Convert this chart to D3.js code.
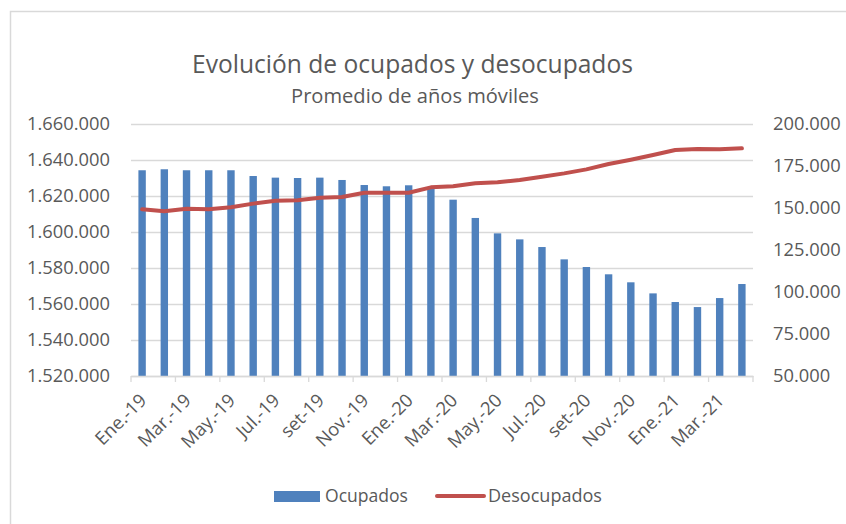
<!DOCTYPE html>
<html><head><meta charset="utf-8">
<script src="https://cdn.jsdelivr.net/npm/d3@7/dist/d3.min.js"></script>
<style>
html,body{margin:0;padding:0;background:#fff;}
svg{display:block;font-family:"Open Sans",sans-serif;}
</style></head>
<body>
<svg id="c" width="846" height="524"></svg>
<script>
const months = ["Ene.-19","Feb.-19","Mar.-19","Abr.-19","May.-19","Jun.-19","Jul.-19","Ago.-19","set-19","Oct.-19","Nov.-19","Dic.-19",
"Ene.-20","Feb.-20","Mar.-20","Abr.-20","May.-20","Jun.-20","Jul.-20","Ago.-20","set-20","Oct.-20","Nov.-20","Dic.-20",
"Ene.-21","Feb.-21","Mar.-21","Abr.-21"];
const ocupados = [1634300,1634850,1634300,1634300,1634300,1631100,1630200,1630000,1630200,1628900,1626100,1625400,
1625950,1624800,1617950,1607800,1599250,1595900,1591650,1584800,1580550,1576500,1572050,1565900,
1561100,1558300,1563300,1571100];
const desocupados = [149200,148000,149600,149200,150400,152600,154300,154600,156100,156500,159100,159100,
159100,162300,162900,164700,165300,166700,168600,170600,173000,176200,178700,181500,
184500,185100,184900,185500];
const leftTicks = [1520000,1540000,1560000,1580000,1600000,1620000,1640000,1660000];
const rightTicks = [50000,75000,100000,125000,150000,175000,200000];
const title = "Evolución de ocupados y desocupados";
const subtitle = "Promedio de años móviles";
const seriesNames = ["Ocupados","Desocupados"];

const svg = d3.select("#c");
const L = 131, R = 753, T = 124, B = 376;
const txt = "#595959", grid = "#d9d9d9", blue = "#4f81bd", red = "#c0504d";
const fmt = v => d3.format(",")(v).replace(/,/g, ".");

function fit(sel, target, base) {
  sel.style("font-size", base + "px");
  const w = sel.node().getComputedTextLength();
  sel.style("font-size", (base * target / w) + "px");
}
const probe = svg.append("text").text("1.660.000").style("font-size","18px");
const axisFs = 18 * 83 / probe.node().getComputedTextLength();
probe.remove();

svg.append("path").attr("d", `M10.5,524 L10.5,11.5 L846,11.5`).attr("fill","none").attr("stroke", grid).attr("stroke-width", 1.5);

const x = d3.scaleBand().domain(months).range([L, R]).paddingInner(2/3).paddingOuter(1/3);
const yL = d3.scaleLinear().domain([1520000, 1660000]).range([B, T]);
const yR = d3.scaleLinear().domain([50000, 200000]).range([B, T]);

const gL = svg.append("g").attr("transform", `translate(${L},0)`)
  .call(d3.axisLeft(yL).tickValues(leftTicks).tickSize(-(R - L)).tickPadding(21).tickFormat(fmt));
gL.select(".domain").remove();
gL.selectAll("line").attr("stroke", grid).attr("stroke-width", 1.3);
gL.selectAll("text").attr("fill", txt).style("font-size", axisFs + "px").style("font-family", "Open Sans");

const gR = svg.append("g").attr("transform", `translate(${R},0)`)
  .call(d3.axisRight(yR).tickValues(rightTicks).tickSize(0).tickPadding(20).tickFormat(fmt));
gR.select(".domain").remove();
gR.selectAll("text").attr("fill", txt).style("font-size", axisFs + "px").style("font-family", "Open Sans");

svg.append("g").selectAll("rect").data(ocupados).join("rect")
  .attr("x", (d, i) => x(months[i]))
  .attr("width", x.bandwidth())
  .attr("y", d => yL(d))
  .attr("height", d => B - yL(d))
  .attr("fill", blue);

const step = x.step();
const gB = svg.append("g").attr("transform", `translate(0,${B})`)
  .call(d3.axisBottom(x).tickValues(months.filter((m, i) => i % 2 === 0)).tickSize(0).tickFormat(d => d));
gB.select(".domain").attr("stroke", grid).attr("stroke-width", 1.3);
gB.selectAll("text").attr("fill", txt).style("font-size", axisFs + "px").style("font-family", "Open Sans")
  .attr("text-anchor", "end").attr("dy", "0.35em").attr("y", 0)
  .attr("transform", "translate(1,21) rotate(-45)");
const tickPos = d3.range(0, months.length + 1, 2).map(i => L + i * step);
svg.append("g").selectAll("line").data(tickPos).join("line")
  .attr("x1", d => d).attr("x2", d => d).attr("y1", B).attr("y2", B + 6)
  .attr("stroke", grid).attr("stroke-width", 1.3);

const line = d3.line().x((d, i) => x(months[i]) + x.bandwidth() / 2).y(d => yR(d));
svg.append("path").datum(desocupados).attr("d", line)
  .attr("fill", "none").attr("stroke", red).attr("stroke-width", 4)
  .attr("stroke-linejoin", "round").attr("stroke-linecap", "round");

const t1 = svg.append("text").attr("x", 412.5).attr("y", 73).attr("text-anchor", "middle").attr("fill", txt).text(title);
fit(t1, 441, 22);
const t2 = svg.append("text").attr("x", 415).attr("y", 103).attr("text-anchor", "middle").attr("fill", txt).text(subtitle);
fit(t2, 248, 18);

svg.append("rect").attr("x", 274).attr("y", 491).attr("width", 46).attr("height", 11).attr("fill", blue);
const l1 = svg.append("text").attr("x", 325).attr("y", 502).attr("fill", txt).text(seriesNames[0]);
fit(l1, 83, 18);
svg.append("line").attr("x1", 437).attr("x2", 484).attr("y1", 496).attr("y2", 496)
  .attr("stroke", red).attr("stroke-width", 4).attr("stroke-linecap", "round");
const l2 = svg.append("text").attr("x", 488).attr("y", 502).attr("fill", txt).text(seriesNames[1]);
fit(l2, 114, 18);
</script>
</body></html>
